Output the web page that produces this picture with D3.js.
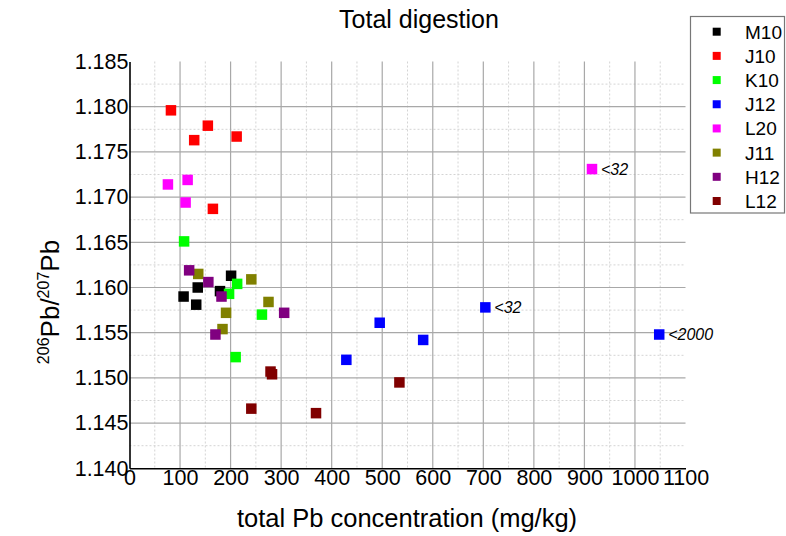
<!DOCTYPE html>
<html>
<head>
<meta charset="utf-8">
<script src="https://cdn.jsdelivr.net/npm/d3@7"></script>
<style>
  html, body { margin: 0; padding: 0; background: #fff; }
  svg { display: block; }
  text { font-family: "Liberation Sans", Arial, sans-serif; fill: #000; }
</style>
</head>
<body>
<svg id="chart" width="786" height="536"></svg>
<script>
// ---- data ----
const seriesNames  = ["M10", "J10", "K10", "J12", "L20", "J11", "H12", "L12"];
const seriesColors = ["#000000", "#ff0000", "#00ff00", "#0000ff", "#ff00ff", "#808000", "#800080", "#800000"];

const m10X = [201, 135, 179, 107, 132];
const m10Y = [1.1613, 1.1600, 1.1596, 1.1590, 1.1581];
const j10X = [82, 155, 128, 212, 165];
const j10Y = [1.1796, 1.1779, 1.1763, 1.1767, 1.1687];
const k10X = [108, 213, 197, 262, 210];
const k10Y = [1.1651, 1.1604, 1.1593, 1.1570, 1.1523];
const j12X = [704, 495, 581, 429, 1048];
const j12Y = [1.1578, 1.1561, 1.1542, 1.1520, 1.1548];
const l20X = [76, 115, 111, 915];
const l20Y = [1.1714, 1.1719, 1.1694, 1.1731];
const j11X = [136, 241, 275, 191, 184];
const j11Y = [1.1615, 1.1609, 1.1584, 1.1572, 1.1554];
const h12X = [118, 156, 182, 306, 170];
const h12Y = [1.1619, 1.1606, 1.1590, 1.1572, 1.1548];
const l12X = [279, 282, 241, 369, 534];
const l12Y = [1.1507, 1.1504, 1.1466, 1.1461, 1.1495];

const seriesX = [m10X, j10X, k10X, j12X, l20X, j11X, h12X, l12X];
const seriesY = [m10Y, j10Y, k10Y, j12Y, l20Y, j11Y, h12Y, l12Y];

// annotations: [series index, point index, text]
const noteSeries = [3, 4, 3];
const notePoint  = [0, 3, 4];
const noteTexts  = ["<32", "<32", "<2000"];

const xTicks = [0, 100, 200, 300, 400, 500, 600, 700, 800, 900, 1000, 1100];
const yTicks = [1.140, 1.145, 1.150, 1.155, 1.160, 1.165, 1.170, 1.175, 1.180, 1.185];
const xMinor = [50, 150, 250, 350, 450, 550, 650, 750, 850, 950, 1050];
const yMinor = [1.1425, 1.1475, 1.1525, 1.1575, 1.1625, 1.1675, 1.1725, 1.1775, 1.1825];

const titleText = "Total digestion";
const xLabelText = "total Pb concentration (mg/kg)";

// ---- chart ----
const svg = d3.select("#chart");
const L = 129.5, R = 685.5, T = 61.5, B = 468.3;
const x = d3.scaleLinear().domain([0, 1100]).range([L, R]);
const y = d3.scaleLinear().domain([1.140, 1.185]).range([B, T]);

// minor grid (dotted)
const grid = svg.append("g");
grid.selectAll("line.vmin").data(xMinor).enter().append("line")
  .attr("x1", d => x(d)).attr("x2", d => x(d)).attr("y1", T).attr("y2", B)
  .attr("stroke", "#d4d4d4").attr("stroke-width", 1).attr("stroke-dasharray", "2,2");
grid.selectAll("line.hmin").data(yMinor).enter().append("line")
  .attr("x1", L).attr("x2", R).attr("y1", d => y(d)).attr("y2", d => y(d))
  .attr("stroke", "#d4d4d4").attr("stroke-width", 1).attr("stroke-dasharray", "2,2");
// major grid
grid.selectAll("line.vmaj").data(xTicks.slice(1, -1)).enter().append("line")
  .attr("x1", d => x(d)).attr("x2", d => x(d)).attr("y1", T).attr("y2", B)
  .attr("stroke", "#a8a8a8").attr("stroke-width", 1.2);
grid.selectAll("line.hmaj").data(yTicks.slice(1, -1)).enter().append("line")
  .attr("x1", L).attr("x2", R).attr("y1", d => y(d)).attr("y2", d => y(d))
  .attr("stroke", "#a8a8a8").attr("stroke-width", 1.2);

// axes
const fs = 21.5;
const xAxis = d3.axisBottom(x).tickValues(xTicks).tickFormat(d3.format("d")).tickSize(0).tickPadding(1);
const gx = svg.append("g").attr("transform", `translate(0,${B})`).call(xAxis);
gx.select(".domain").attr("stroke", "#000").attr("stroke-width", 1.6);
gx.selectAll("text").attr("font-size", fs).attr("font-family", "Liberation Sans, Arial, sans-serif").attr("fill", "#000");

const yAxis = d3.axisLeft(y).tickValues(yTicks).tickFormat(d3.format(".3f")).tickSize(0).tickPadding(1);
const gy = svg.append("g").attr("transform", `translate(${L},0)`).call(yAxis);
gy.select(".domain").attr("stroke", "#000").attr("stroke-width", 1.6);
gy.selectAll("text").attr("font-size", fs).attr("font-family", "Liberation Sans, Arial, sans-serif").attr("fill", "#000");

// points
const ms = 10.5;
seriesNames.forEach((name, si) => {
  const pts = seriesX[si].map((v, i) => [v, seriesY[si][i]]);
  svg.append("g").selectAll("rect").data(pts).enter().append("rect")
    .attr("x", d => x(d[0]) - ms / 2).attr("y", d => y(d[1]) - ms / 2)
    .attr("width", ms).attr("height", ms)
    .attr("fill", seriesColors[si]);
});

// annotations
noteTexts.forEach((t, i) => {
  const si = noteSeries[i], pi = notePoint[i];
  svg.append("text")
    .attr("x", x(seriesX[si][pi]) + 9).attr("y", y(seriesY[si][pi]) + 5.5)
    .attr("font-size", 16).attr("font-style", "italic").text(t);
});

// title
svg.append("text").attr("x", 419).attr("y", 28).attr("text-anchor", "middle")
  .attr("font-size", 25).text(titleText);

// x label
svg.append("text").attr("x", 407).attr("y", 527).attr("text-anchor", "middle")
  .attr("font-size", 25.5).text(xLabelText);

// y label with superscripts
const yl = svg.append("text").attr("transform", "translate(59,302) rotate(-90)")
  .attr("text-anchor", "middle").attr("font-size", 26);
yl.append("tspan").attr("font-size", 16).attr("dy", -10).text("206");
yl.append("tspan").attr("dy", 10).text("Pb/");
yl.append("tspan").attr("font-size", 16).attr("dy", -10).text("207");
yl.append("tspan").attr("dy", 10).text("Pb");

// legend
const lg = svg.append("g");
lg.append("rect").attr("x", 690.5).attr("y", 16.5).attr("width", 94).attr("height", 196.5)
  .attr("fill", "#fff").attr("stroke", "#777").attr("stroke-width", 1.2);
const legRowY = d3.scaleLinear().domain([0, 7]).range([31.7, 201]);
seriesNames.forEach((name, i) => {
  lg.append("rect").attr("x", 716.7 - 4).attr("y", legRowY(i) - 4).attr("width", 8).attr("height", 8)
    .attr("fill", seriesColors[i]);
  lg.append("text").attr("x", 745).attr("y", legRowY(i) + 7).attr("font-size", 19).text(name);
});
</script>
</body>
</html>
